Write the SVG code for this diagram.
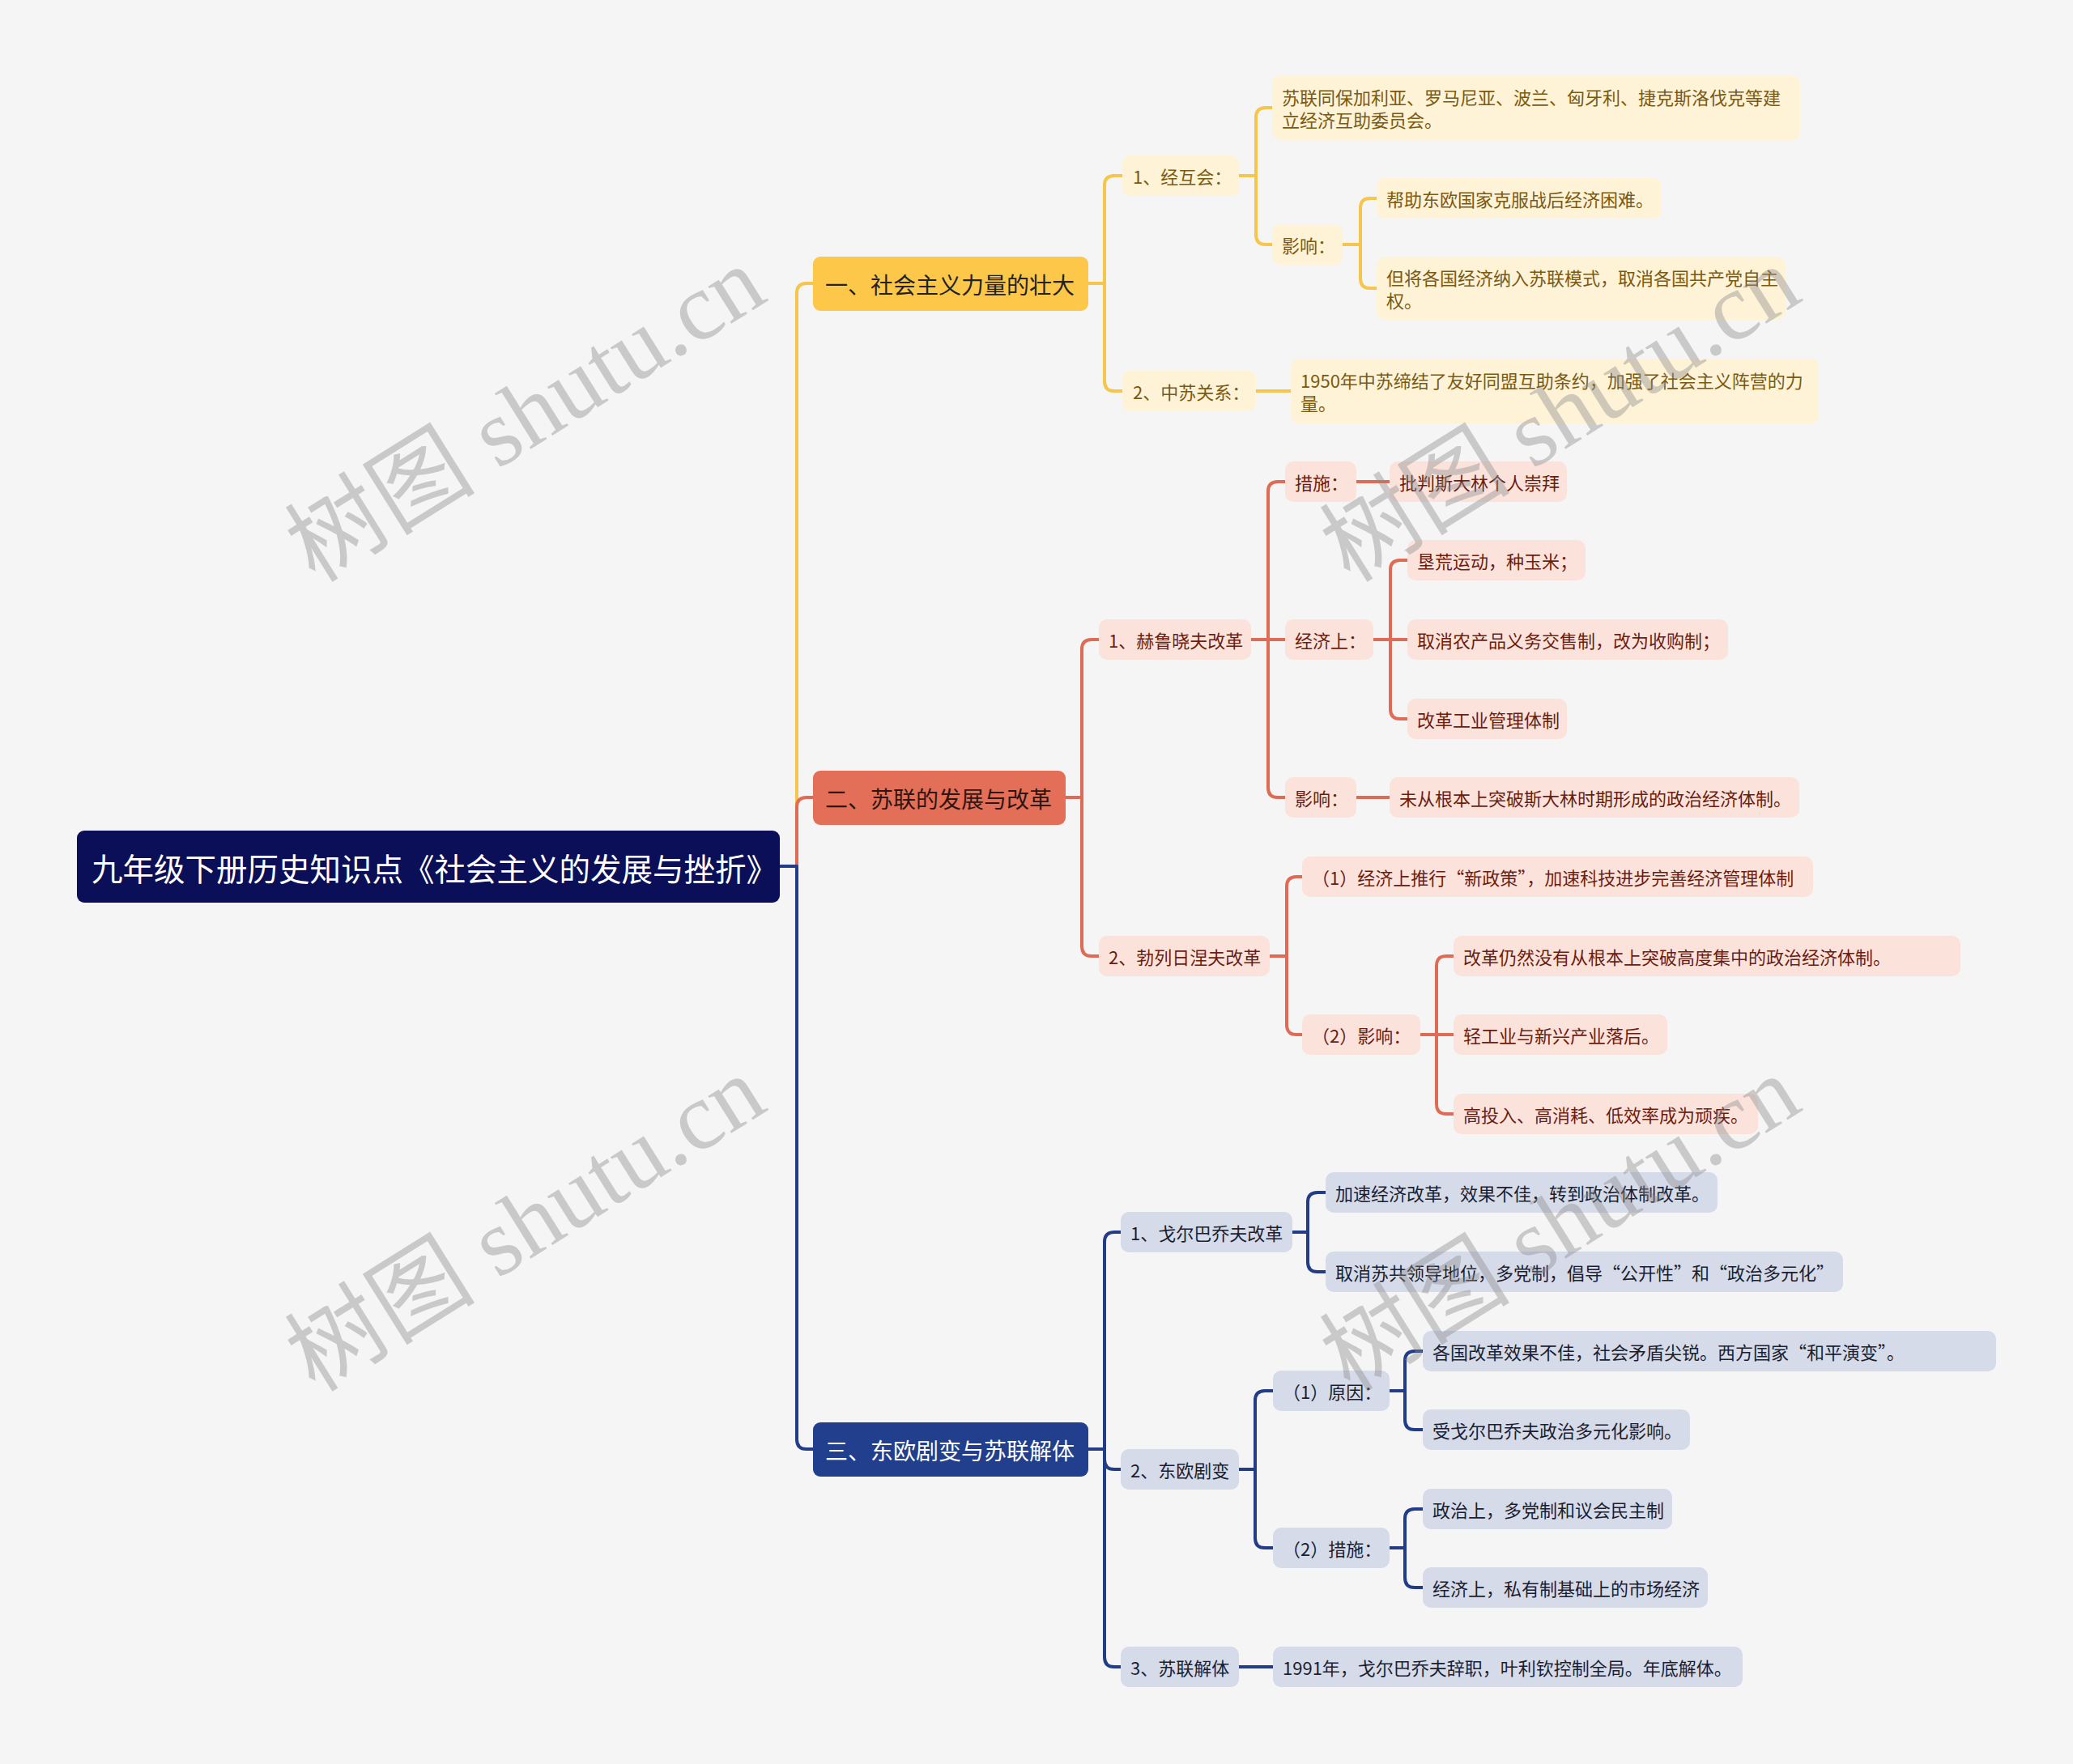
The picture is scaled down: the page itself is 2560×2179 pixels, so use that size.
<svg xmlns="http://www.w3.org/2000/svg" width="2560" height="2179" viewBox="0 0 2560 2179">
<style>
text{font-family:"Noto Sans CJK SC","Noto Sans",sans-serif;dominant-baseline:central;}
.l{fill:none;stroke-width:4;stroke-linecap:round;stroke-linejoin:round;}
.ly{stroke:#F6C54C;}
.lr{stroke:#DF6B56;}
.ln{stroke:#223C88;}
.root rect{fill:#0B0F57;}
.root text{fill:#FFFFFF;font-size:38.5px;}
.b1 rect{fill:#FDC84A;}
.b1 text{fill:#222222;font-size:28px;}
.b2 rect{fill:#E46F58;}
.b2 text{fill:#2E1610;font-size:28px;}
.b3 rect{fill:#223F8D;}
.b3 text{fill:#FFFFFF;font-size:28px;}
.ys rect{fill:#FEF2D7;}
.ys text{fill:#7A5A12;font-size:22px;}
.rs rect{fill:#FBE3DC;}
.rs text{fill:#6B1D10;font-size:22px;}
.ns rect{fill:#D6DBEA;}
.ns text{fill:#1B1E30;font-size:22px;}
.wm{font-family:"Liberation Serif","Noto Sans CJK SC",serif;font-size:118px;fill:#8A8A8A;opacity:0.4;text-anchor:middle;}
</style>
<rect x="0" y="0" width="2560" height="2179" fill="#F5F5F5"/>

<g id="connectors">
  <path class="l ly" d="M963 1070 H984 V362 Q984 350 996 350 H1004"/>
  <path class="l lr" d="M963 1070 H984 V997 Q984 985 996 985 H1004"/>
  <path class="l ln" d="M963 1070 H984 V1778 Q984 1790 996 1790 H1004"/>
  <path class="l ly" d="M1344 350 H1364 V229 Q1364 217 1376 217 H1386"/>
  <path class="l ly" d="M1344 350 H1364 V471 Q1364 483 1376 483 H1386"/>
  <path class="l ly" d="M1530 217 H1551 V145 Q1551 133 1563 133 H1571"/>
  <path class="l ly" d="M1530 217 H1551 V290 Q1551 302 1563 302 H1571"/>
  <path class="l ly" d="M1658 302 H1680 V257 Q1680 245 1692 245 H1700"/>
  <path class="l ly" d="M1658 302 H1680 V344 Q1680 356 1692 356 H1700"/>
  <path class="l ly" d="M1551 483 H1594"/>
  <path class="l lr" d="M1316 985 H1336 V802 Q1336 790 1348 790 H1357"/>
  <path class="l lr" d="M1316 985 H1336 V1169 Q1336 1181 1348 1181 H1357"/>
  <path class="l lr" d="M1545 790 H1566 V607 Q1566 595 1578 595 H1587"/>
  <path class="l lr" d="M1545 790 H1587"/>
  <path class="l lr" d="M1545 790 H1566 V973 Q1566 985 1578 985 H1587"/>
  <path class="l lr" d="M1675 595 H1716"/>
  <path class="l lr" d="M1696 790 H1717 V704 Q1717 692 1729 692 H1738"/>
  <path class="l lr" d="M1696 790 H1738"/>
  <path class="l lr" d="M1696 790 H1717 V876 Q1717 888 1729 888 H1738"/>
  <path class="l lr" d="M1675 985 H1716"/>
  <path class="l lr" d="M1568 1181 H1589 V1095 Q1589 1083 1601 1083 H1608"/>
  <path class="l lr" d="M1568 1181 H1589 V1266 Q1589 1278 1601 1278 H1608"/>
  <path class="l lr" d="M1754 1278 H1774 V1193 Q1774 1181 1786 1181 H1795"/>
  <path class="l lr" d="M1754 1278 H1795"/>
  <path class="l lr" d="M1754 1278 H1774 V1364 Q1774 1376 1786 1376 H1795"/>
  <path class="l ln" d="M1344 1790 H1364 V1534 Q1364 1522 1376 1522 H1384"/>
  <path class="l ln" d="M1344 1790 H1364 V1803 Q1364 1815 1376 1815 H1384"/>
  <path class="l ln" d="M1344 1790 H1364 V2047 Q1364 2059 1376 2059 H1384"/>
  <path class="l ln" d="M1596 1522 H1615 V1485 Q1615 1473 1627 1473 H1637"/>
  <path class="l ln" d="M1596 1522 H1615 V1559 Q1615 1571 1627 1571 H1637"/>
  <path class="l ln" d="M1530 1815 H1550 V1730 Q1550 1718 1562 1718 H1572"/>
  <path class="l ln" d="M1530 1815 H1550 V1900 Q1550 1912 1562 1912 H1572"/>
  <path class="l ln" d="M1716 1718 H1735 V1681 Q1735 1669 1747 1669 H1757"/>
  <path class="l ln" d="M1716 1718 H1735 V1754 Q1735 1766 1747 1766 H1757"/>
  <path class="l ln" d="M1716 1912 H1735 V1876 Q1735 1864 1747 1864 H1757"/>
  <path class="l ln" d="M1716 1912 H1735 V1949 Q1735 1961 1747 1961 H1757"/>
  <path class="l ln" d="M1530 2059 H1572"/>
</g>

<g id="root" class="root"><rect x="95" y="1026" width="868" height="89" rx="9"/><text x="113" y="1071">九年级下册历史知识点《社会主义的发展与挫折》</text></g>

<g id="b1" class="b1"><rect x="1004" y="317" width="340" height="67" rx="9"/><text x="1019" y="351">一、社会主义力量的壮大</text></g>
<g id="b2" class="b2"><rect x="1004" y="952" width="312" height="67" rx="9"/><text x="1019" y="986">二、苏联的发展与改革</text></g>
<g id="b3" class="b3"><rect x="1004" y="1757" width="340" height="67" rx="9"/><text x="1019" y="1791">三、东欧剧变与苏联解体</text></g>

<g id="y1" class="ys"><rect x="1386" y="192" width="144" height="50" rx="10"/><text x="1399" y="217">1、经互会：</text></g>
<g id="y1a" class="ys"><rect x="1571" y="93" width="652" height="80" rx="10"/><text x="1583" y="119">苏联同保加利亚、罗马尼亚、波兰、匈牙利、捷克斯洛伐克等建</text><text x="1583" y="147">立经济互助委员会。</text></g>
<g id="y1b" class="ys"><rect x="1571" y="277" width="87" height="50" rx="10"/><text x="1583" y="302">影响：</text></g>
<g id="y1b1" class="ys"><rect x="1700" y="220" width="352" height="50" rx="10"/><text x="1712" y="245">帮助东欧国家克服战后经济困难。</text></g>
<g id="y1b2" class="ys"><rect x="1700" y="318" width="505" height="77" rx="10"/><text x="1712" y="342">但将各国经济纳入苏联模式，取消各国共产党自主</text><text x="1712" y="370">权。</text></g>
<g id="y2" class="ys"><rect x="1386" y="458" width="165" height="50" rx="10"/><text x="1399" y="483">2、中苏关系：</text></g>
<g id="y2a" class="ys"><rect x="1594" y="443" width="652" height="80" rx="10"/><text x="1606" y="469">1950年中苏缔结了友好同盟互助条约，加强了社会主义阵营的力</text><text x="1606" y="497">量。</text></g>

<g id="r1" class="rs"><rect x="1357" y="765" width="188" height="50" rx="10"/><text x="1369" y="790">1、赫鲁晓夫改革</text></g>
<g id="r1a" class="rs"><rect x="1587" y="570" width="88" height="50" rx="10"/><text x="1599" y="595">措施：</text></g>
<g id="r1a1" class="rs"><rect x="1716" y="570" width="219" height="50" rx="10"/><text x="1728" y="595">批判斯大林个人崇拜</text></g>
<g id="r1b" class="rs"><rect x="1587" y="765" width="109" height="50" rx="10"/><text x="1599" y="790">经济上：</text></g>
<g id="r1b1" class="rs"><rect x="1738" y="667" width="220" height="50" rx="10"/><text x="1750" y="692">垦荒运动，种玉米；</text></g>
<g id="r1b2" class="rs"><rect x="1738" y="765" width="396" height="50" rx="10"/><text x="1750" y="790">取消农产品义务交售制，改为收购制；</text></g>
<g id="r1b3" class="rs"><rect x="1738" y="863" width="197" height="50" rx="10"/><text x="1750" y="888">改革工业管理体制</text></g>
<g id="r1c" class="rs"><rect x="1587" y="960" width="88" height="50" rx="10"/><text x="1599" y="985">影响：</text></g>
<g id="r1c1" class="rs"><rect x="1716" y="960" width="506" height="50" rx="10"/><text x="1728" y="985">未从根本上突破斯大林时期形成的政治经济体制。</text></g>
<g id="r2" class="rs"><rect x="1357" y="1156" width="211" height="50" rx="10"/><text x="1369" y="1181">2、勃列日涅夫改革</text></g>
<g id="r2a" class="rs"><rect x="1608" y="1058" width="631" height="50" rx="10"/><text x="1620" y="1083">（1）经济上推行“新政策”，加速科技进步完善经济管理体制</text></g>
<g id="r2b" class="rs"><rect x="1608" y="1253" width="146" height="50" rx="10"/><text x="1620" y="1278">（2）影响：</text></g>
<g id="r2b1" class="rs"><rect x="1795" y="1156" width="626" height="50" rx="10"/><text x="1807" y="1181">改革仍然没有从根本上突破高度集中的政治经济体制。</text></g>
<g id="r2b2" class="rs"><rect x="1795" y="1253" width="264" height="50" rx="10"/><text x="1807" y="1278">轻工业与新兴产业落后。</text></g>
<g id="r2b3" class="rs"><rect x="1795" y="1351" width="376" height="50" rx="10"/><text x="1807" y="1376">高投入、高消耗、低效率成为顽疾。</text></g>

<g id="n1" class="ns"><rect x="1384" y="1497" width="212" height="50" rx="10"/><text x="1396" y="1522">1、戈尔巴乔夫改革</text></g>
<g id="n1a" class="ns"><rect x="1637" y="1448" width="484" height="50" rx="10"/><text x="1649" y="1473">加速经济改革，效果不佳，转到政治体制改革。</text></g>
<g id="n1b" class="ns"><rect x="1637" y="1546" width="639" height="50" rx="10"/><text x="1649" y="1571">取消苏共领导地位，多党制，倡导“公开性”和“政治多元化”</text></g>
<g id="n2" class="ns"><rect x="1384" y="1790" width="146" height="50" rx="10"/><text x="1396" y="1815">2、东欧剧变</text></g>
<g id="n2a" class="ns"><rect x="1572" y="1693" width="144" height="50" rx="10"/><text x="1584" y="1718">（1）原因：</text></g>
<g id="n2a1" class="ns"><rect x="1757" y="1644" width="708" height="50" rx="10"/><text x="1769" y="1669">各国改革效果不佳，社会矛盾尖锐。西方国家“和平演变”。</text></g>
<g id="n2a2" class="ns"><rect x="1757" y="1741" width="330" height="50" rx="10"/><text x="1769" y="1766">受戈尔巴乔夫政治多元化影响。</text></g>
<g id="n2b" class="ns"><rect x="1572" y="1887" width="144" height="50" rx="10"/><text x="1584" y="1912">（2）措施：</text></g>
<g id="n2b1" class="ns"><rect x="1757" y="1839" width="308" height="50" rx="10"/><text x="1769" y="1864">政治上，多党制和议会民主制</text></g>
<g id="n2b2" class="ns"><rect x="1757" y="1936" width="352" height="50" rx="10"/><text x="1769" y="1961">经济上，私有制基础上的市场经济</text></g>
<g id="n3" class="ns"><rect x="1384" y="2034" width="146" height="50" rx="10"/><text x="1396" y="2059">3、苏联解体</text></g>
<g id="n3a" class="ns"><rect x="1572" y="2034" width="580" height="50" rx="10"/><text x="1584" y="2059">1991年，戈尔巴乔夫辞职，叶利钦控制全局。年底解体。</text></g>

<g id="watermark">
  <text class="wm" transform="translate(649 512) rotate(-32)">树图 shutu.cn</text>
  <text class="wm" transform="translate(1927 512) rotate(-32)">树图 shutu.cn</text>
  <text class="wm" transform="translate(649 1512) rotate(-32)">树图 shutu.cn</text>
  <text class="wm" transform="translate(1927 1512) rotate(-32)">树图 shutu.cn</text>
</g>
</svg>
